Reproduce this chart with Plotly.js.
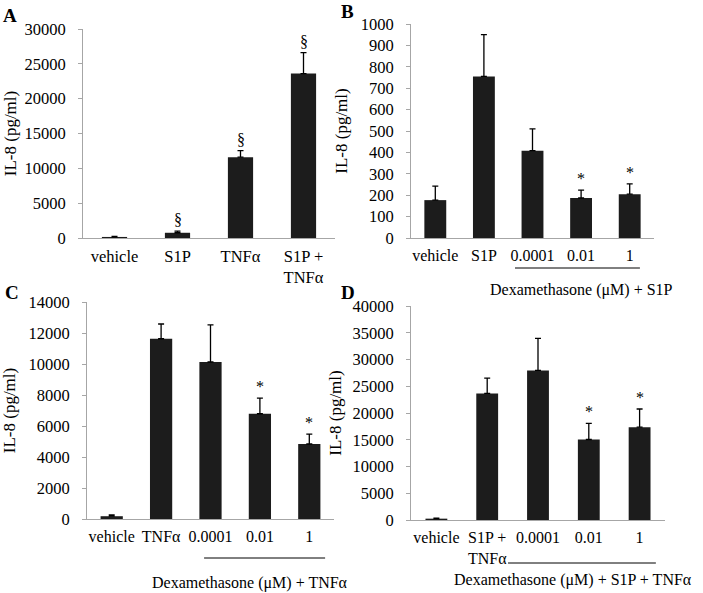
<!DOCTYPE html>
<html><head><meta charset="utf-8">
<script src="https://cdn.plot.ly/plotly-3.0.1.min.js"></script>
<style>html,body{margin:0;padding:0;background:#fff}</style>
</head><body><div id="chart" style="width:703px;height:593px"></div>
<script>
// Panel A
const catsA = ['vehicle', 'S1P', 'TNFα', 'S1P +<br>TNFα'];
const valsA = [150, 750, 11600, 23600];
const errA  = [80, 250, 950, 3000];
const sigA  = ['', '§', '§', '§'];
// Panel B
const catsB = ['vehicle', 'S1P', '0.0001', '0.01', '1'];
const valsB = [177, 755, 408, 187, 205];
const errB  = [65, 195, 102, 37, 48];
const sigB  = ['', '', '', '*', '*'];
// Panel C
const catsC = ['vehicle', 'TNFα', '0.0001', '0.01', '1'];
const valsC = [180, 11630, 10130, 6790, 4840];
const errC  = [80, 950, 2400, 1010, 640];
const sigC  = ['', '', '', '*', '*'];
// Panel D
const catsD = ['vehicle', 'S1P +<br>TNFα', '0.0001', '0.01', '1'];
const valsD = [250, 23650, 27950, 15050, 17350];
const errD  = [100, 2850, 6000, 3000, 3400];
const sigD  = ['', '', '', '*', '*'];

const groupLabels = ['Dexamethasone (μM) + S1P', 'Dexamethasone (μM) + TNFα', 'Dexamethasone (μM) + S1P + TNFα'];
const yTitle = 'IL-8 (pg/ml)';
const panelLetters = ['A', 'B', 'C', 'D'];

const FONT = 'Liberation Serif, Times New Roman, serif';
const BAR = '#1c1c1c';
const AXC = '#a6a6a6';

function barTrace(cats, vals, errs, xa, ya, w) {
  return {
    type: 'bar', x: cats, y: vals, xaxis: xa, yaxis: ya, width: w,
    marker: {color: BAR, line: {width: 0}},
    error_y: {type: 'data', array: errs, arrayminus: errs.map(() => 0), symmetric: false,
              color: '#000', thickness: 1.3, width: 3},
    hoverinfo: 'x+y', showlegend: false
  };
}

const data = [
  barTrace(catsA, valsA, errA, 'x', 'y', 0.4),
  barTrace(catsB, valsB, errB, 'x2', 'y2', 0.45),
  barTrace(catsC, valsC, errC, 'x3', 'y3', 0.45),
  barTrace(catsD, valsD, errD, 'x4', 'y4', 0.43)
];

const W = 703, H = 593;
const px = v => v / W;
const py = v => (H - v) / H;

function xAx(d0, d1, anchor, n, fs) {
  return {type: 'category', domain: [px(d0), px(d1)], anchor: anchor, range: [-0.5, n - 0.5],
          showline: true, linecolor: AXC, linewidth: 1,
          ticks: '', showgrid: false, zeroline: false, fixedrange: true, tickangle: 0,
          tickfont: {family: FONT, size: fs, color: '#000'}, ticklabelstandoff: 3};
}
function yAx(d0, d1, anchor, max, dtick, standoff) {
  return {domain: [py(d0), py(d1)], anchor: anchor, range: [0, max], dtick: dtick, tickformat: 'd',
          showline: true, linecolor: AXC, linewidth: 1, ticks: 'outside', ticklen: 4, tickcolor: AXC,
          showgrid: false, zeroline: false, fixedrange: true, ticklabelstandoff: 9,
          tickfont: {family: FONT, size: 16.5, color: '#000'},
          title: {text: yTitle, font: {family: FONT, size: 17, color: '#000'}, standoff: standoff}};
}

const annotations = [];
function addSig(cats, vals, errs, sig, xa, ya) {
  cats.forEach((c, i) => {
    if (sig[i]) annotations.push({x: i, y: vals[i] + errs[i], xref: xa, yref: ya, text: sig[i],
      showarrow: false, yanchor: 'bottom', yshift: 1, font: {family: FONT, size: 16, color: '#000'}});
  });
}
addSig(catsA, valsA, errA, sigA, 'x', 'y');
addSig(catsB, valsB, errB, sigB, 'x2', 'y2');
addSig(catsC, valsC, errC, sigC, 'x3', 'y3');
addSig(catsD, valsD, errD, sigD, 'x4', 'y4');

const groupPos = [
  {xref: 'x2', x: 3.0, y: py(290)},
  {xref: 'x3', x: 2.8, y: py(583)},
  {xref: 'x4', x: 2.69, y: py(580)}
];
groupLabels.forEach((t, i) => annotations.push({text: t, xref: groupPos[i].xref, x: groupPos[i].x,
  yref: 'paper', y: groupPos[i].y, showarrow: false, xanchor: 'center', yanchor: 'middle',
  font: {family: FONT, size: 16, color: '#000'}}));

const letterPos = [[10, 16], [347, 12], [12, 292], [348, 292]];
panelLetters.forEach((t, i) => annotations.push({text: '<b>' + t + '</b>', xref: 'paper', yref: 'paper',
  x: px(letterPos[i][0]), y: py(letterPos[i][1]), showarrow: false, xanchor: 'center', yanchor: 'middle',
  font: {family: FONT, size: 19, color: '#000'}}));

const shapes = [
  {type: 'line', xref: 'x2', yref: 'paper', x0: 1.64, x1: 4.21, y0: py(268), y1: py(268), line: {color: '#000', width: 1}},
  {type: 'line', xref: 'x3', yref: 'paper', x0: 1.87, x1: 4.32, y0: py(558), y1: py(558), line: {color: '#000', width: 1}},
  {type: 'line', xref: 'x4', yref: 'paper', x0: 1.41, x1: 4.32, y0: py(563), y1: py(563), line: {color: '#000', width: 1}}
];

const layout = {
  width: W, height: H, margin: {l: 0, r: 0, t: 0, b: 0},
  paper_bgcolor: '#fff', plot_bgcolor: '#fff', showlegend: false,
  font: {family: FONT, size: 16, color: '#000'},
  xaxis: xAx(83, 335, 'y', catsA.length, 16.5),
  yaxis: yAx(238, 29, 'x', 30000, 5000, 3),
  xaxis2: xAx(411, 654, 'y2', catsB.length, 16),
  yaxis2: yAx(238, 24, 'x2', 1000, 100, 8),
  xaxis3: xAx(87, 334, 'y3', catsC.length, 16),
  yaxis3: yAx(519, 302, 'x3', 14000, 2000, 9),
  xaxis4: xAx(411, 665, 'y4', catsD.length, 16),
  yaxis4: yAx(520, 306, 'x4', 40000, 5000, 6),
  annotations: annotations,
  shapes: shapes
};

Plotly.newPlot('chart', data, layout, {displayModeBar: false, staticPlot: true});
</script>
</body></html>
